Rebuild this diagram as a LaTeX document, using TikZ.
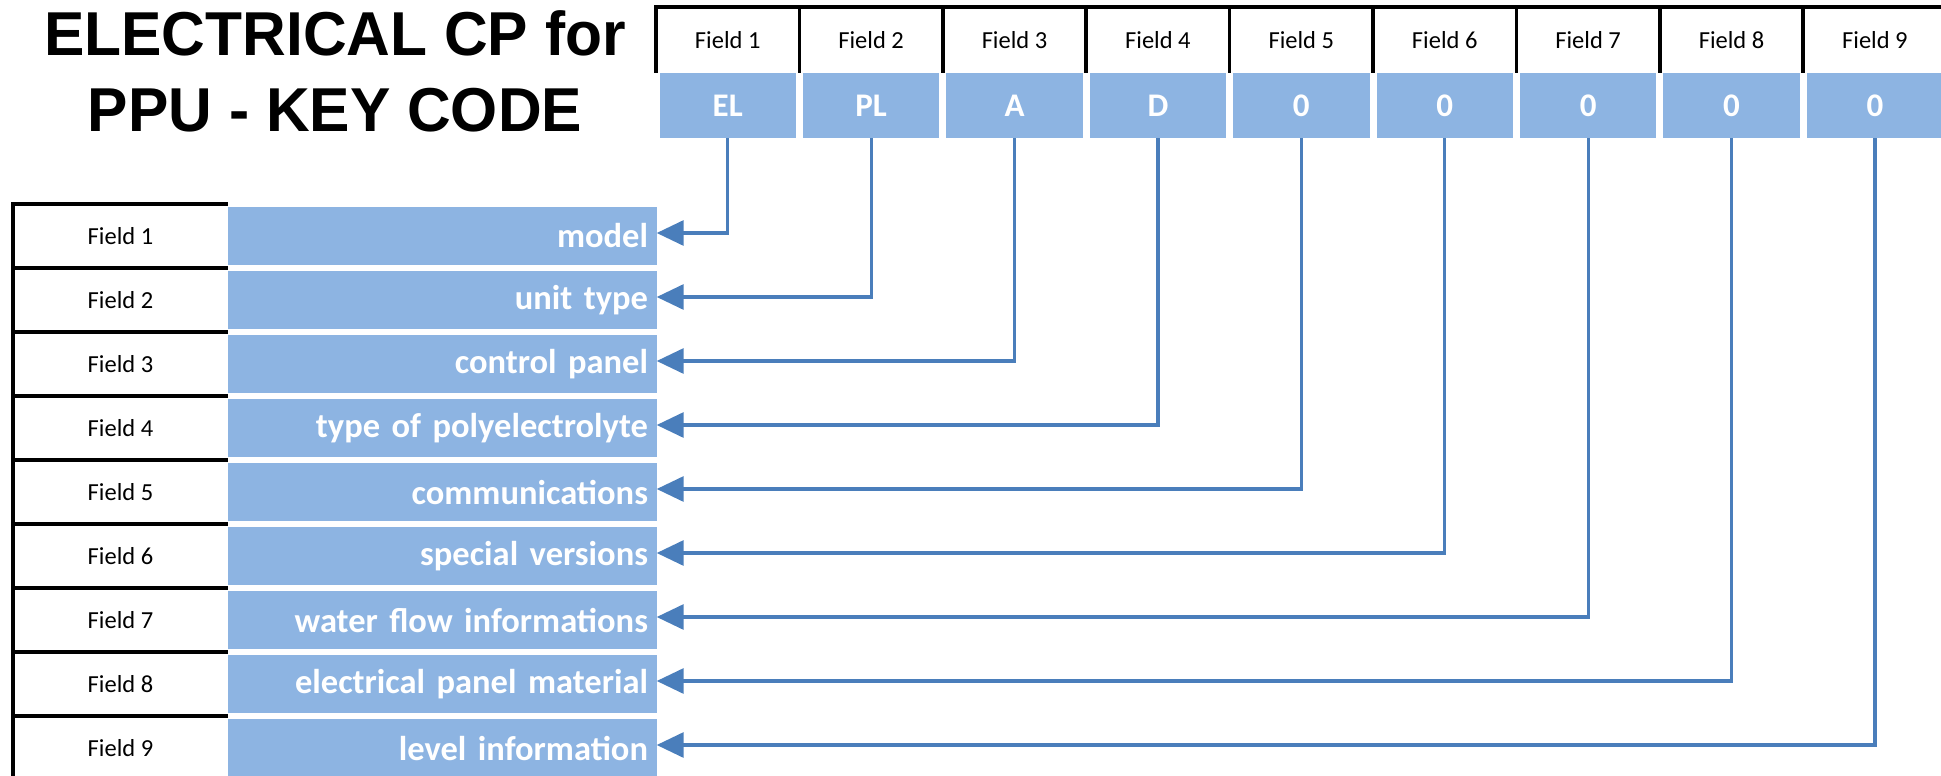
\documentclass[tikz,border=0pt]{standalone}
\usepackage{fontspec}
\setmainfont{Carlito}
\newfontfamily\titlefont[FakeStretch=0.976]{Liberation Sans}
\usetikzlibrary{arrows.meta}
\definecolor{cellblue}{HTML}{8DB4E2}
\definecolor{arrowblue}{HTML}{4A7EBB}
\begin{document}
\begin{tikzpicture}[x=1pt,y=-1pt,
  titletext/.style={inner sep=0pt, font=\titlefont\bfseries\fontsize{62}{62}\selectfont, text=black},
  fieldtext/.style={inner sep=0pt, font=\fontsize{24.5}{29}\selectfont, text=black},
  topval/.style={fill=cellblue, minimum width=136.4pt, minimum height=65pt, inner sep=0pt,
    text=white, font=\bfseries\fontsize{33}{37}\selectfont},
  keylabel/.style={fill=cellblue, minimum height=58pt, inner xsep=8.5pt, inner ysep=0pt,
    text width=411.5pt, align=right, text=white, font=\bfseries\fontsize{34.5}{39}\selectfont},
  blackline/.style={line width=3.5pt, black},
  conn/.style={line width=3.2pt, arrowblue, -{Triangle[length=27pt,width=25pt]}}]
\clip (0,0) rectangle (1941,776);
\fill[white] (0,0) rectangle (1941,776);

% title
\node[titletext, anchor=base] (t1) at (335,56) {ELECTRICAL CP for};
\node[titletext, anchor=base] (t2) at (335,131.5) {PPU - KEY CODE};

% top table
\foreach \i/\v in {1/EL,2/PL,3/A,4/D,5/0,6/0,7/0,8/0,9/0} {
  \pgfmathsetmacro\cx{656+(\i-1)*143.4+71.7}
  \node[fieldtext] (f\i) at (\cx,40) {Field \i};
  \node[topval] (v\i) at (\cx,105.5) {\v};
}
\draw[blackline] (654.25,7) -- (1960,7);
\draw[blackline] (656,5.25) -- (656,73);
\foreach \k in {1,...,9} {
  \pgfmathsetmacro\dx{656+\k*143.4}
  \draw[blackline] (\dx,7) -- (\dx,73);
}

% left table
\foreach \i/\t in {1/model,2/unit type,3/control panel,4/type of polyelectrolyte,5/communications,6/special versions,7/water flow informations,8/electrical panel material,9/level information} {
  \pgfmathsetmacro\cy{204+(\i-1)*64+32}
  \node[fieldtext] (r\i) at (120.5,\cy) {Field \i};
  \node[keylabel] (l\i) at (442.25,\cy) {\t};
  \pgfmathsetmacro\ly{204+(\i-1)*64}
  \draw[blackline] (13,\ly) -- (228,\ly);
}
\draw[blackline] (13,202.25) -- (13,800);

% connectors
\foreach \i in {1,...,9} {
  \draw[conn] (v\i.south) |- ([yshift=3pt]l\i.east);
}
\end{tikzpicture}
\end{document}
